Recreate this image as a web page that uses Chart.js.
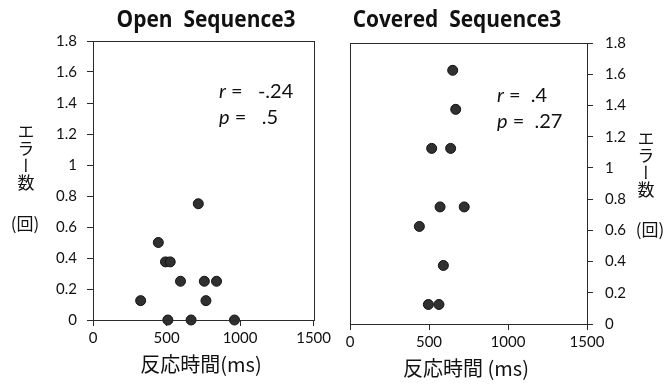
<!DOCTYPE html>
<html><head><meta charset="utf-8">
<script src="https://cdn.jsdelivr.net/npm/chart.js@4/dist/chart.umd.min.js"></script>
<style>
body{margin:0;width:668px;height:386px;background:#fff;position:relative;overflow:hidden;font-family:Lato,sans-serif;color:#111}
.cw{position:absolute;top:0;width:334px;height:386px}
.t{position:absolute;white-space:pre;color:#111;line-height:1}
.title{font-family:"Open Sans",sans-serif;font-weight:700;font-size:23px;transform:translate(-50%,-50%) scaleX(0.91)}
.ann{font-family:Lato,sans-serif;font-size:20px}
.jp{font-family:"Noto Sans CJK JP",sans-serif}
.xt{font-size:20px;transform:translate(-50%,-50%)}
.vt{font-size:17px;writing-mode:vertical-rl;text-orientation:upright;transform:translate(-50%,0)}
.pt{font-size:17px;transform:translate(-50%,-50%)}
</style></head>
<body>
<div class="cw" style="left:0"><canvas id="c1"></canvas></div>
<div class="cw" style="left:334px"><canvas id="c2"></canvas></div>

<div class="t title" style="left:206px;top:18px">Open  Sequence3</div>
<div class="t title" style="left:457px;top:18px">Covered  Sequence3</div>

<div class="t ann" style="left:219px;top:80px"><i>r</i> =   -.24</div>
<div class="t ann" style="left:219px;top:106px"><i>p</i> =   .5</div>
<div class="t ann" style="left:497px;top:84px"><i>r</i> =  .4</div>
<div class="t ann" style="left:497px;top:110px"><i>p</i> =  .27</div>

<div class="t jp xt" style="left:201px;top:364px">反応時間(ms)</div>
<div class="t jp xt" style="left:466px;top:368px">反応時間 (ms)</div>

<div class="t jp vt" style="left:26px;top:123px">エラー数</div>
<div class="t jp pt" style="left:25px;top:222px">(回)</div>
<div class="t jp vt" style="left:646px;top:130px">エラー数</div>
<div class="t jp pt" style="left:650px;top:228px">(回)</div>

<script>
// Data
const openRT      = [716, 444, 493, 525, 595, 757, 840, 324, 768, 509, 667, 962];
const openErr     = [0.75, 0.5, 0.375, 0.375, 0.25, 0.25, 0.25, 0.125, 0.125, 0, 0, 0];
const coveredRT   = [650, 669, 517, 637, 570, 723, 439, 591, 496, 563];
const coveredErr  = [1.625, 1.375, 1.125, 1.125, 0.75, 0.75, 0.625, 0.375, 0.125, 0.125];
const xTickValues = [0, 500, 1000, 1500];
const yTickValues = [0, 0.2, 0.4, 0.6, 0.8, 1, 1.2, 1.4, 1.6, 1.8];
const yTickLabels = ['0', '0.2', '0.4', '0.6', '0.8', '1', '1.2', '1.4', '1.6', '1.8'];

const ink = '#2a2a2a';
const tickFont = {family: 'Lato, sans-serif', size: 15};

const frame = {
  id: 'frame',
  afterDraw(chart) {
    const a = chart.chartArea, ctx = chart.ctx;
    ctx.save();
    ctx.strokeStyle = ink; ctx.lineWidth = 1;
    ctx.strokeRect(Math.round(a.left) + 0.5, Math.round(a.top) + 0.5, Math.round(a.right - a.left), Math.round(a.bottom - a.top));
    ctx.restore();
  }
};

function makeChart(id, xs, ys, yPos, pad, yWidth, xHeight) {
  const pts = xs.map((x, i) => ({x: x, y: ys[i]}));
  return new Chart(document.getElementById(id), {
    type: 'scatter',
    data: {datasets: [{
      data: pts,
      backgroundColor: '#303030',
      borderColor: '#111',
      borderWidth: 1,
      pointRadius: 5,
      pointHoverRadius: 5,
      clip: false
    }]},
    options: {
      responsive: true, maintainAspectRatio: false, animation: false,
      layout: {padding: pad},
      plugins: {legend: {display: false}, tooltip: {enabled: false}},
      scales: {
        x: {
          type: 'linear', min: 0, max: 1500,
          afterBuildTicks: s => { s.ticks = xTickValues.map(v => ({value: v})); },
          afterFit: s => { s.height = xHeight; },
          grid: {drawOnChartArea: false, color: ink, tickLength: 6, tickColor: ink},
          border: {color: ink, width: 1},
          ticks: {color: '#111', font: tickFont, padding: 3, maxRotation: 0,
                  callback: v => String(v)}
        },
        y: {
          type: 'linear', position: yPos, min: 0, max: 1.8,
          afterBuildTicks: s => { s.ticks = yTickValues.map(v => ({value: v})); },
          afterFit: s => { s.width = yWidth; },
          grid: {drawOnChartArea: false, color: ink, tickLength: 6, tickColor: ink},
          border: {color: ink, width: 1},
          ticks: {color: '#111', font: tickFont, padding: yPos === 'left' ? 10 : 12,
                  callback: (v, i) => yTickLabels[i]}
        }
      }
    },
    plugins: [frame]
  });
}

makeChart('c1', openRT, openErr, 'left', {left: 0, right: 19, top: 41, bottom: 0}, 93, 66);
makeChart('c2', coveredRT, coveredErr, 'right', {left: 16, right: 0, top: 43, bottom: 0}, 81, 62);
</script>
</body></html>
